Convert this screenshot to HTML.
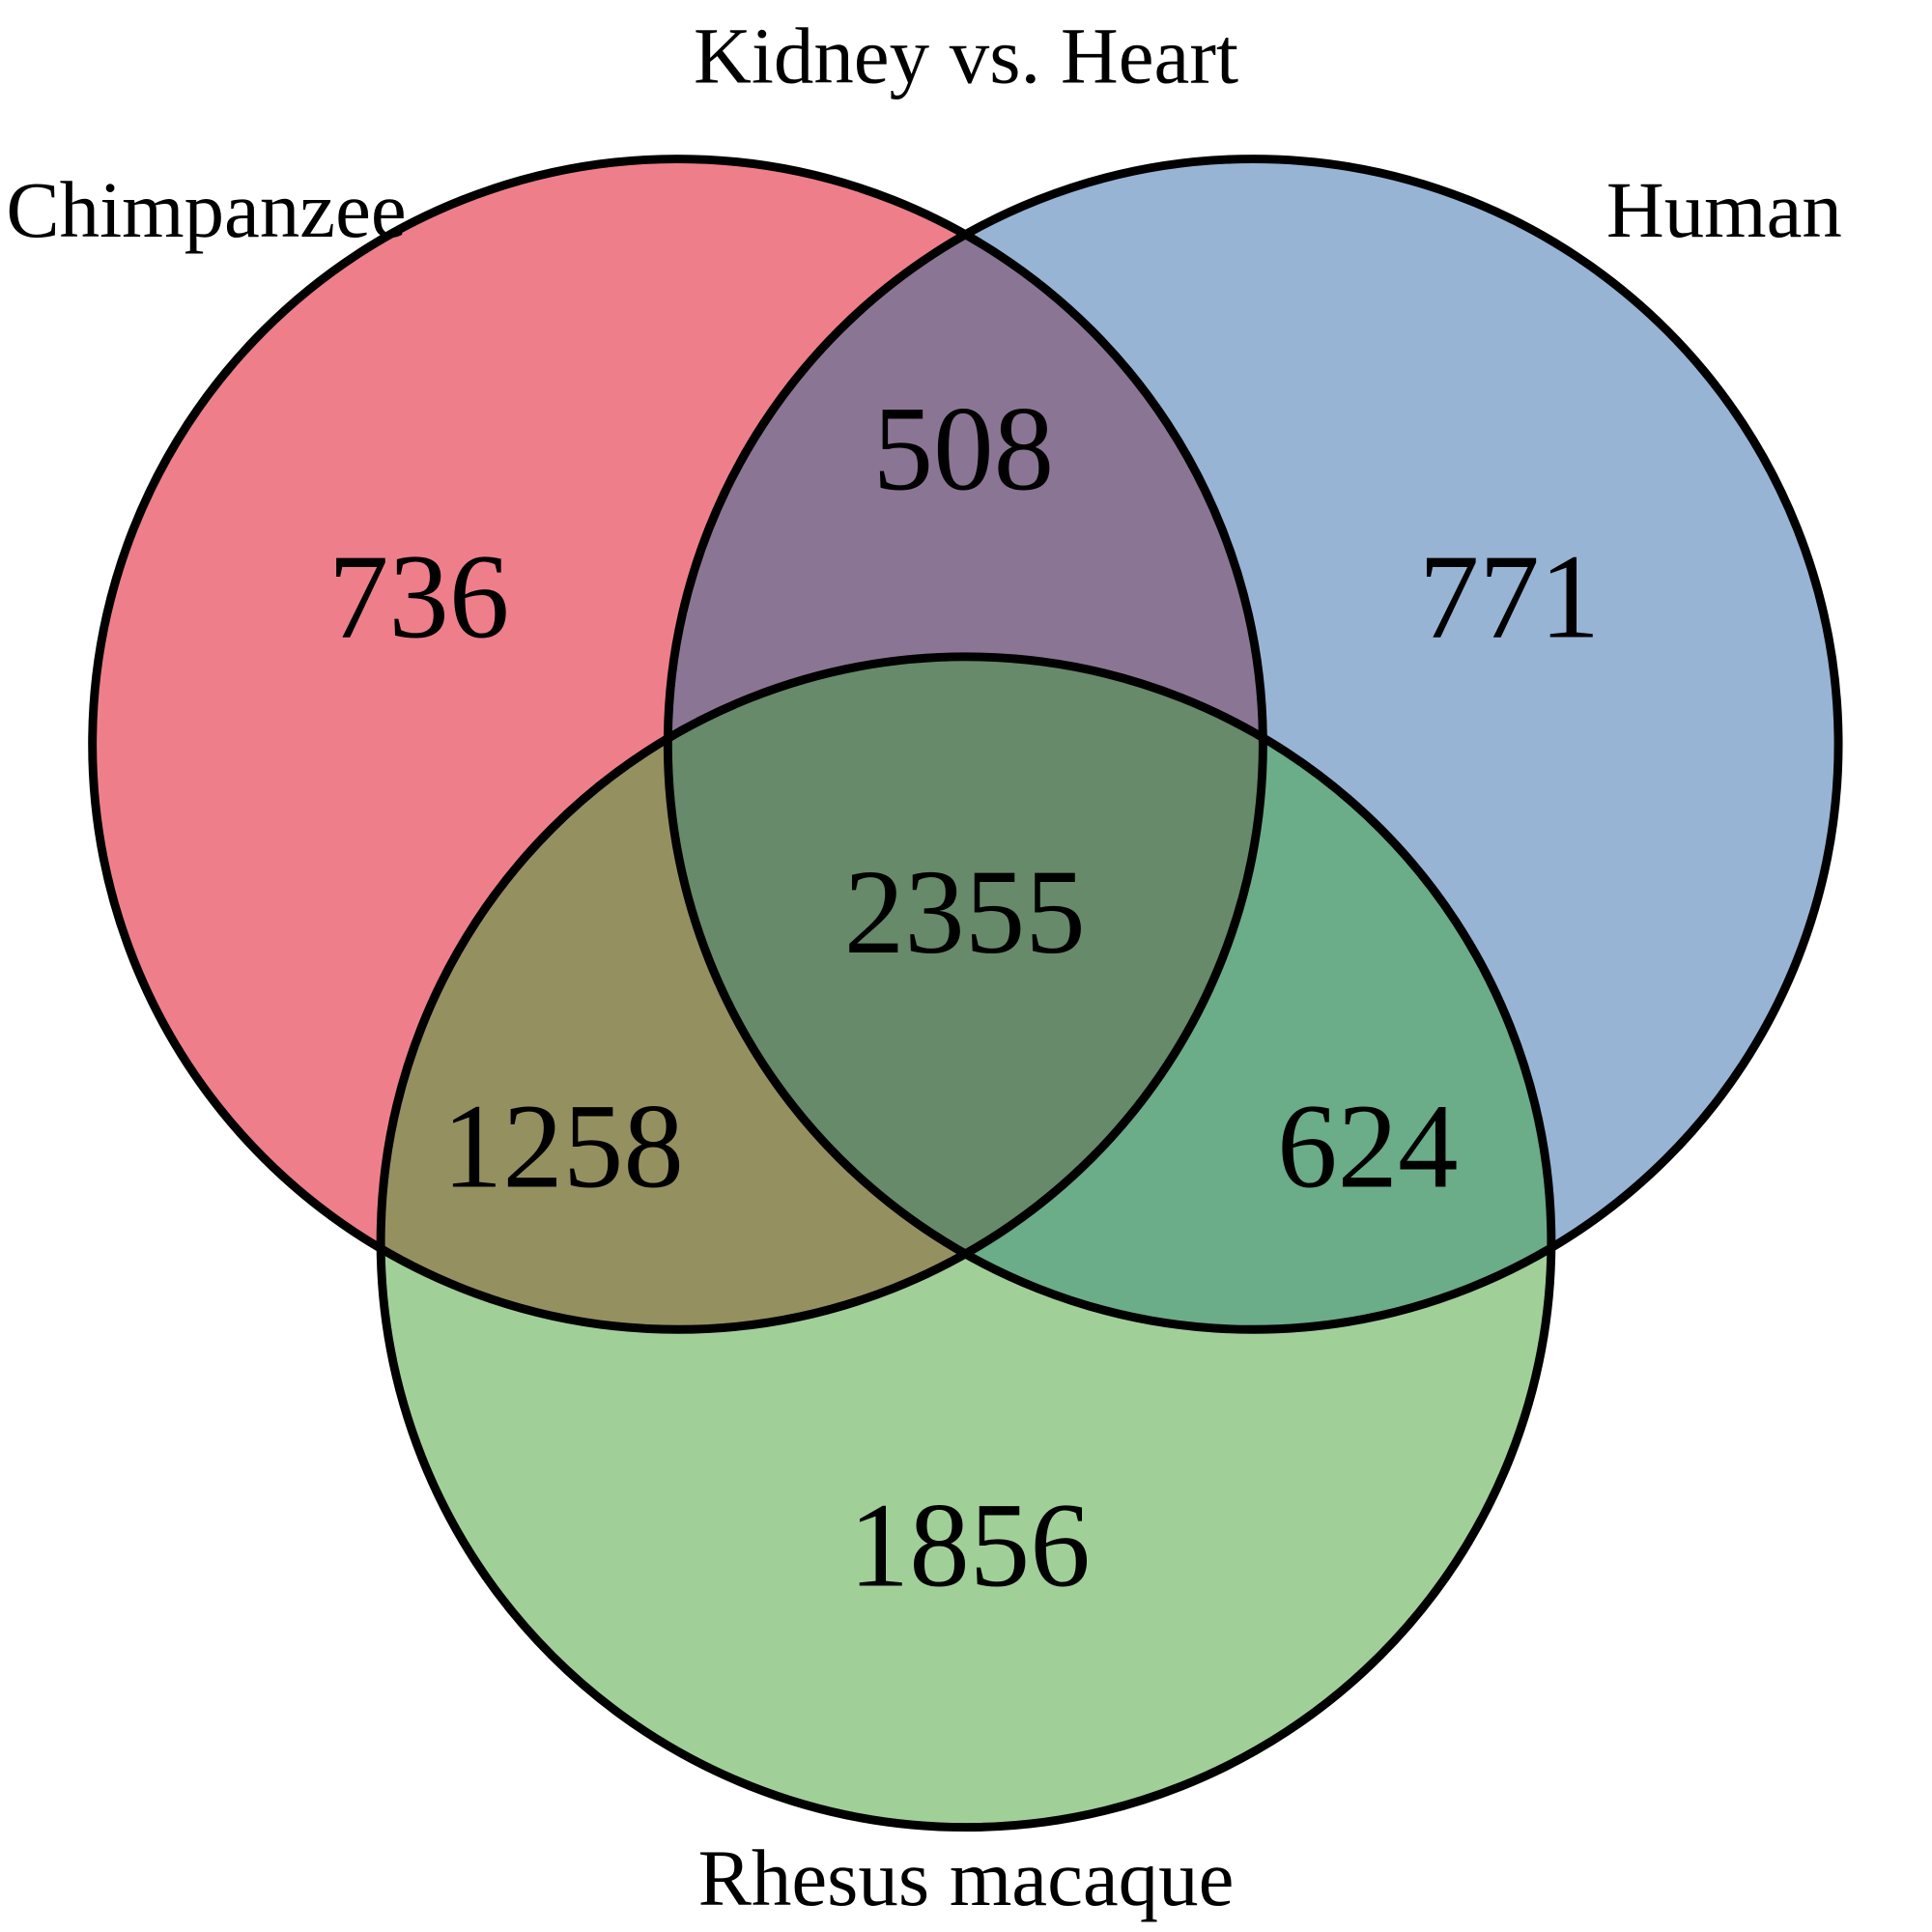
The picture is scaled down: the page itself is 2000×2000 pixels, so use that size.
<!DOCTYPE html>
<html><head><meta charset="utf-8"><style>html,body{margin:0;padding:0;background:#fff}svg{display:block}</style></head>
<body>
<svg id="venn" width="2000" height="2000" viewBox="0 0 1568 1568" xmlns="http://www.w3.org/2000/svg" font-family="'Liberation Serif', serif">
<defs>
<clipPath id="cC"><circle cx="550" cy="604" r="475"/></clipPath>
<clipPath id="cH"><circle cx="1017" cy="604" r="475"/></clipPath>
<clipPath id="cR"><circle cx="784" cy="1008" r="475"/></clipPath>
</defs>
<g id="regions"></g>
<g id="labels"></g>
</svg>
<script>
const setNames = ["Chimpanzee", "Human", "Rhesus macaque"];
const regionNames = ["chimp-only", "human-only", "rhesus-only", "chimp-human", "chimp-rhesus", "human-rhesus", "all-three"];
const regionCounts = [736, 771, 1856, 508, 1258, 624, 2355];
const title = "Kidney vs. Heart";

const NS = "http://www.w3.org/2000/svg";
const C = [{x:550,y:604},{x:1017,y:604},{x:784,y:1008}];
const R = 475;
const cols = ["#EE7F8A","#97B4D5","#A1CF98"];
const g = document.getElementById('regions');
const L = document.getElementById('labels');
function circ(i, fill, clip, stroke){
  const c = document.createElementNS(NS,'circle');
  c.setAttribute('cx',C[i].x); c.setAttribute('cy',C[i].y); c.setAttribute('r',R);
  c.setAttribute('fill',fill);
  if(clip) c.setAttribute('clip-path','url(#'+clip+')');
  if(stroke){c.setAttribute('stroke','#000');c.setAttribute('stroke-width','7');}
  return c;
}
for(let i=0;i<3;i++){
  const c = circ(i, cols[i]);
  
  
  g.appendChild(c);
}
const pairs = [[0,1,'cH','#8B7595'],[0,2,'cR','#959060'],[1,2,'cR','#6BAC89']];
pairs.forEach((p,k)=>{
  const c = circ(p[0], p[3], p[2]);
  
  
  g.appendChild(c);
});
const gi = document.createElementNS(NS,'g'); gi.setAttribute('clip-path','url(#cH)');
const ci = circ(0,'#678A6A','cR');


gi.appendChild(ci); g.appendChild(gi);
for(let i=0;i<3;i++){
  const c = circ(i,'none',null,true);
  
  
  g.appendChild(c);
}
function text(str,x,y,size,anchor,name){
  const t = document.createElementNS(NS,'text');
  t.setAttribute('x',x); t.setAttribute('y',y); t.setAttribute('font-size',size);
  t.setAttribute('text-anchor',anchor); t.setAttribute('fill','#000');
  t.textContent = str;
  
  
  L.appendChild(t);
}
const regionPos = [[340,517],[1225,517],[787,1287],[782,397],[457,963],[1110,963],[783,773]];
regionCounts.forEach((v,i)=>text(String(v), regionPos[i][0], regionPos[i][1], 98, 'middle', regionNames[i]+'-count'));
text(title, 784, 67, 65, 'middle', 'chart-title');
text(setNames[0], 5, 192, 65, 'start', 'label-chimpanzee');
text(setNames[1], 1495, 192, 65, 'end', 'label-human');
text(setNames[2], 784, 1546, 65, 'middle', 'label-rhesus-macaque');
</script>
</body></html>
